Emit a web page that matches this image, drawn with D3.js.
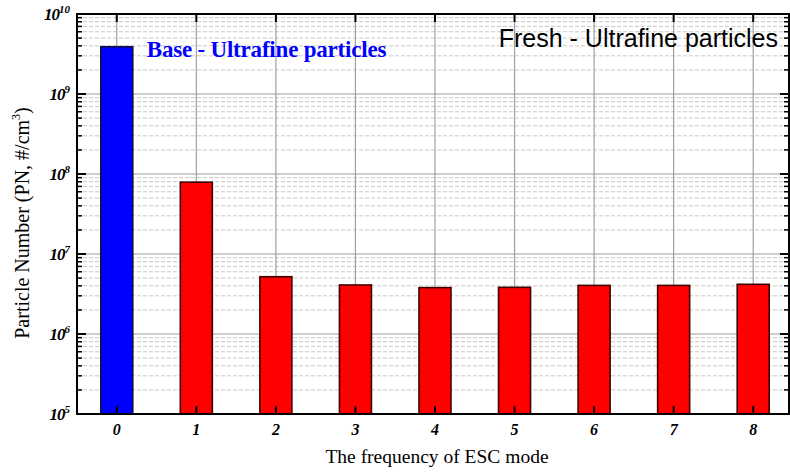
<!DOCTYPE html>
<html>
<head>
<meta charset="utf-8">
<script src="https://cdnjs.cloudflare.com/ajax/libs/d3/7.8.5/d3.min.js"></script>
<style>
body { margin: 0; background: #fff; }
</style>
</head>
<body>
<div id="chart"></div>
<script>
// Chart data
var categories = [0, 1, 2, 3, 4, 5, 6, 7, 8];
var pnValues = [3.9e9, 7.9e7, 5.2e6, 4.1e6, 3.8e6, 3.83e6, 4.05e6, 4.05e6, 4.18e6];
var barColors = ["#0000ff", "#ff0000", "#ff0000", "#ff0000", "#ff0000", "#ff0000", "#ff0000", "#ff0000", "#ff0000"];
var decadeExponents = [5, 6, 7, 8, 9, 10];

var svgWidth = 790;
var svgHeight = 472;
var margin = { top: 14, right: 1, bottom: 58, left: 77 };
var chartWidth = svgWidth - margin.left - margin.right;
var chartHeight = svgHeight - margin.top - margin.bottom;

var svg = d3.select("#chart")
    .append("svg")
    .attr("width", svgWidth)
    .attr("height", svgHeight);

var chartGroup = svg.append("g")
    .attr("transform", `translate(${margin.left}, ${margin.top})`);

var xScale = d3.scaleLinear()
    .domain([-0.5, 8.45])
    .range([0, chartWidth]);

var yScale = d3.scaleLog()
    .domain([1e5, 1e10])
    .range([chartHeight, 0]);

// minor ticks (2..9 in each decade)
var minorTicks = [];
decadeExponents.slice(0, -1).forEach(function (e) {
    for (var m = 2; m <= 9; m++) minorTicks.push(m * Math.pow(10, e));
});
var majorTicks = decadeExponents.map(e => Math.pow(10, e));

// minor grid, dashed
chartGroup.append("g")
    .selectAll("line")
    .data(minorTicks)
    .enter()
    .append("line")
    .attr("x1", 0)
    .attr("x2", chartWidth)
    .attr("y1", d => yScale(d))
    .attr("y2", d => yScale(d))
    .attr("stroke", "#c8c8c8")
    .attr("stroke-width", 1)
    .attr("stroke-dasharray", "4,2");

// major grid
chartGroup.append("g")
    .selectAll("line")
    .data(majorTicks)
    .enter()
    .append("line")
    .attr("x1", 0)
    .attr("x2", chartWidth)
    .attr("y1", d => yScale(d))
    .attr("y2", d => yScale(d))
    .attr("stroke", "#a0a0a0")
    .attr("stroke-width", 1.2);

// vertical grid
chartGroup.append("g")
    .selectAll("line")
    .data(categories)
    .enter()
    .append("line")
    .attr("x1", d => xScale(d))
    .attr("x2", d => xScale(d))
    .attr("y1", 0)
    .attr("y2", chartHeight)
    .attr("stroke", "#a0a0a0")
    .attr("stroke-width", 1.2);

// bars
var barWidth = 32;
chartGroup.selectAll(".bar")
    .data(categories)
    .enter()
    .append("rect")
    .attr("class", "bar")
    .attr("x", d => xScale(d) - barWidth / 2)
    .attr("y", (d, i) => yScale(pnValues[i]))
    .attr("width", barWidth)
    .attr("height", (d, i) => chartHeight - yScale(pnValues[i]))
    .attr("fill", (d, i) => barColors[i])
    .attr("stroke", (d, i) => i === 0 ? "#101040" : "#400000")
    .attr("stroke-width", 1.6);

// tick marks (inward, on all four sides)
var ticks = chartGroup.append("g").attr("stroke", "#000").attr("stroke-width", 2);
categories.forEach(function (c) {
    var x = xScale(c);
    ticks.append("line").attr("x1", x).attr("x2", x).attr("y1", chartHeight).attr("y2", chartHeight - 8);
    ticks.append("line").attr("x1", x).attr("x2", x).attr("y1", 0).attr("y2", 8);
});
majorTicks.forEach(function (v) {
    var y = yScale(v);
    ticks.append("line").attr("x1", 0).attr("x2", 9).attr("y1", y).attr("y2", y);
    ticks.append("line").attr("x1", chartWidth).attr("x2", chartWidth - 9).attr("y1", y).attr("y2", y);
});
minorTicks.forEach(function (v) {
    var y = yScale(v);
    ticks.append("line").attr("x1", 0).attr("x2", 5).attr("y1", y).attr("y2", y).attr("stroke-width", 1.5);
    ticks.append("line").attr("x1", chartWidth).attr("x2", chartWidth - 5).attr("y1", y).attr("y2", y).attr("stroke-width", 1.5);
});

// frame
chartGroup.append("rect")
    .attr("width", chartWidth)
    .attr("height", chartHeight)
    .attr("fill", "none")
    .attr("stroke", "#000")
    .attr("stroke-width", 2);

// y tick labels: 10^n
var yLabels = chartGroup.append("g")
    .attr("font-family", "'Liberation Serif', 'Times New Roman', serif")
    .attr("font-weight", "bold")
    .attr("font-style", "italic");
decadeExponents.forEach(function (e) {
    var t = yLabels.append("text")
        .attr("x", -7)
        .attr("y", yScale(Math.pow(10, e)) + 6)
        .attr("text-anchor", "end")
        .attr("font-size", 17);
    t.append("tspan").text("10").attr("letter-spacing", -1);
    t.append("tspan").text(e).attr("font-size", 11).attr("dy", -7);
});

// x tick labels
chartGroup.append("g")
    .selectAll("text")
    .data(categories)
    .enter()
    .append("text")
    .attr("x", d => xScale(d))
    .attr("y", chartHeight + 21)
    .attr("text-anchor", "middle")
    .attr("font-family", "'Liberation Serif', 'Times New Roman', serif")
    .attr("font-weight", "bold")
    .attr("font-style", "italic")
    .attr("font-size", 16)
    .text(d => d);

// axis titles
svg.append("text")
    .attr("x", 437)
    .attr("y", 463)
    .attr("text-anchor", "middle")
    .attr("font-family", "'Liberation Serif', 'Times New Roman', serif")
    .attr("font-size", 19.5)
    .text("The frequency of ESC mode");

var yTitle = svg.append("text")
    .attr("transform", "translate(29, 223) rotate(-90)")
    .attr("text-anchor", "middle")
    .attr("font-family", "'Liberation Serif', 'Times New Roman', serif")
    .attr("font-size", 20);
yTitle.append("tspan").text("Particle Number (PN, #/cm");
yTitle.append("tspan").text("3").attr("font-size", 12).attr("dy", -9);
yTitle.append("tspan").text(")").attr("dy", 9);

// annotations
chartGroup.append("text")
    .attr("x", xScale(0) + 30)
    .attr("y", 42.5)
    .attr("font-family", "'Liberation Serif', 'Times New Roman', serif")
    .attr("font-weight", "bold")
    .attr("font-size", 23)
    .attr("letter-spacing", -0.2)
    .attr("fill", "#0000ff")
    .text("Base - Ultrafine particles");

chartGroup.append("text")
    .attr("x", chartWidth - 11)
    .attr("y", 33)
    .attr("text-anchor", "end")
    .attr("font-family", "'Liberation Sans', Arial, sans-serif")
    .attr("font-size", 25)
    .attr("fill", "#000")
    .text("Fresh - Ultrafine particles");
</script>
</body>
</html>
